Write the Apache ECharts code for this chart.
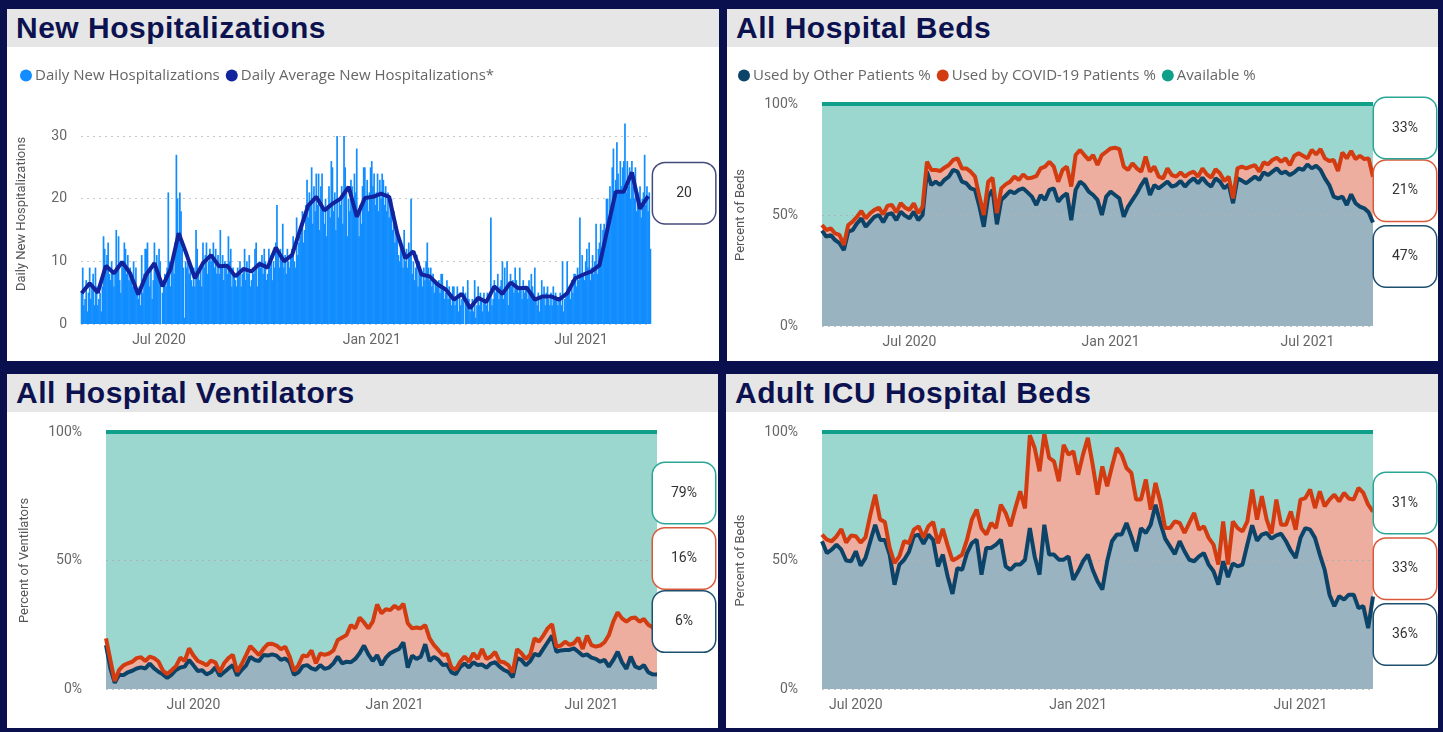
<!DOCTYPE html>
<html>
<head>
<meta charset="utf-8">
<title>Hospital capacity</title>
<script src="https://cdn.jsdelivr.net/npm/echarts@6/dist/echarts.min.js"></script>
<style>
  html, body { margin: 0; padding: 0; }
  body { width: 1443px; height: 732px; background: #0a104e; position: relative; overflow: hidden; }
  .panel { position: absolute; background: #fff; }
  .panel .hdr { height: 38px; background: #e6e6e6; padding-left: 9px; font: bold 30px/38px 'Liberation Sans', Arial, sans-serif; color: #0c1250; letter-spacing: 0.5px; white-space: nowrap; }
  #chart { position: absolute; left: 0; top: 0; width: 1443px; height: 732px; }
</style>
</head>
<body>
<div class="panel" style="left:7px;top:9px;width:712px;height:352px"><div class="hdr">New Hospitalizations</div></div>
<div class="panel" style="left:727px;top:9px;width:711px;height:352px"><div class="hdr">All Hospital Beds</div></div>
<div class="panel" style="left:7px;top:374px;width:711px;height:354px"><div class="hdr">All Hospital Ventilators</div></div>
<div class="panel" style="left:726px;top:374px;width:712px;height:354px"><div class="hdr">Adult ICU Hospital Beds</div></div>
<div id="chart"></div>
<script>
// new hospitalizations, one value per day from 2020-04-25
const hospStart = '2020-04-25';
const hospDaily = [
  5,9,3,4,7,2,5, 9,4,6,8,3,9,6, 3,4,5,2,6,14,12, 9,11,13,8,7,10,8,
  6,8,15,9,14,7,5, 10,9,13,12,8,11,7, 9,8,6,10,7,9,5, 4,6,3,11,5,8,12,
  12,13,8,6,9,4,7, 13,9,11,8,12,10,0, 5,7,8,6,9,21,10, 6,9,11,8,13,27,20,
  14,21,18,12,9,1,10, 9,11,8,10,7,6,9, 6,15,12,8,7,9,6, 13,9,11,13,8,10,12,
  10,11,13,9,12,8,11, 8,15,9,11,7,10,9, 8,14,10,12,6,9,8, 7,6,9,8,10,6,8,
  9,12,7,10,8,11,6, 7,9,8,12,13,6,9, 10,9,11,8,12,10,7, 8,12,9,11,7,10,9,
  13,19,11,9,12,10,16, 9,11,8,12,10,9,11, 12,14,10,9,17,11,13, 14,16,18,13,15,19,23,
  17,21,19,25,16,22,18, 24,19,24,15,22,24,18, 16,20,14,19,22,17,26, 25,18,21,15,30,17,20,
  19,22,16,30,25,21,14, 20,18,23,22,19,24,21, 28,17,14,19,16,22,25, 25,20,23,18,21,25,26,
  22,24,19,21,24,18,23, 20,24,23,19,22,18,21, 17,19,20,15,18,13,16, 14,11,10,13,12,9,15,
  10,12,9,13,11,20,8, 10,7,9,11,6,10,8, 8,6,9,7,10,13,9, 7,9,6,8,5,7,6,
  6,7,5,8,8,6,4, 5,7,4,6,5,3,6, 6,3,4,6,2,5,3, 4,6,0,5,3,7,4,
  2,3,4,2,7,1,3, 6,3,5,4,2,5,4, 3,5,2,4,17,3,4, 7,5,6,8,4,6,7,
  10,4,9,5,10,3,6, 8,6,7,5,9,7,6, 5,9,6,4,7,5,6, 6,4,7,5,8,6,5,
  9,4,3,5,2,4,7, 4,6,3,5,6,4,3, 5,3,6,4,5,4,3, 4,5,3,10,2,4,5,
  10,5,6,4,7,5,8, 8,6,9,7,17,8,11, 8,7,10,12,9,13,7, 9,11,8,10,16,8,12,
  13,16,12,15,16,14,20, 20,17,22,19,25,28,21, 23,29,24,21,26,22,25, 26,32,21,26,22,25,20,
  26,22,20,25,18,21,19, 22,17,20,21,27,19,22, 18,21,12
];
// daily average, one point every 7 days from the same start
const hospWeeklyAvg = [
  4.9, 6.5, 5.0, 9.3, 8.1, 9.9, 8.1, 4.7, 7.9, 9.7, 6.0, 8.8, 14.5, 11.0, 7.3, 9.7, 11.0, 9.2,
  9.3, 7.6, 8.8, 8.4, 9.6, 9.0, 12.2, 10.0, 11.0, 15.0, 18.9, 20.3, 18.1, 19.2, 20.0, 21.9,
  17.1, 20.1, 20.3, 20.8, 20.3, 14.5, 10.5, 11.6, 7.9, 7.6, 6.3, 5.5, 3.9, 4.8, 2.5, 4.2,
  3.5, 6.0, 4.8, 6.6, 5.7, 5.8, 3.9, 4.4, 4.4, 3.9, 4.9, 7.3, 7.9, 8.4, 9.4, 15.3, 21.1,
  21.1, 24.2, 18.4, 20.4
];

// percent series, one value every 4 days
const stepDays = 4;
const bedsStart = '2020-04-13';
const bedsOther = [
  43.0, 40.2, 41.0, 38.7, 37.3, 34.2, 42.5, 43.2, 46.2, 48.5,
  44.7, 47.0, 49.2, 50.0, 46.7, 50.3, 50.8, 47.7, 51.5, 49.7,
  48.5, 51.5, 47.7, 50.0, 69.5, 63.5, 65.0, 63.5, 65.8, 67.3,
  70.3, 69.5, 65.0, 64.3, 62.0, 61.3, 53.8, 44.7, 58.3, 61.3,
  45.8, 56.8, 58.7, 60.8, 59.8, 61.3, 62.0, 60.2, 58.3, 54.5,
  59.0, 56.8, 61.3, 62.0, 56.0, 58.3, 59.8, 47.7, 61.3, 65.0,
  63.5, 60.5, 59.0, 56.8, 50.0, 58.3, 60.5, 59.0, 57.5, 49.2,
  53.8, 56.8, 59.8, 63.5, 66.5, 59.0, 63.5, 62.0, 63.5, 65.0,
  62.8, 63.5, 65.3, 62.8, 65.0, 66.5, 64.3, 66.8, 64.3, 62.8,
  66.5, 65.0, 62.0, 63.8, 55.3, 66.5, 65.5, 64.3, 65.8, 67.3,
  65.8, 69.2, 68.0, 69.5, 71.0, 68.8, 69.5, 68.0, 69.2, 71.0,
  70.3, 72.8, 71.0, 72.2, 70.3, 66.5, 63.5, 58.3, 57.5, 58.3,
  54.5, 59.3, 55.3, 53.8, 53.0, 51.2, 46.6
];
const bedsCovid = [
  2.5, 3.0, 3.0, 3.0, 3.7, 2.3, 3.0, 3.8, 3.0, 3.3,
  3.8, 3.8, 3.1, 3.3, 3.6, 3.9, 3.7, 3.5, 3.8, 3.6,
  3.8, 3.8, 3.1, 3.8, 4.5, 6.8, 5.3, 6.3, 5.5, 5.2,
  4.5, 6.0, 6.0, 6.7, 7.5, 6.0, 4.5, 5.3, 6.7, 5.5,
  5.0, 5.2, 5.1, 4.2, 7.5, 4.5, 6.3, 6.3, 8.5, 13.0,
  12.0, 15.0, 12.7, 9.8, 9.0, 12.0, 12.0, 15.1, 15.7, 14.3,
  13.5, 14.3, 18.0, 15.7, 27.0, 20.2, 19.5, 21.3, 22.2, 22.6,
  16.5, 16.5, 11.2, 6.0, 9.8, 10.5, 8.3, 5.3, 3.0, 6.0,
  5.2, 3.8, 3.9, 4.5, 3.8, 3.0, 3.0, 4.2, 4.0, 4.0,
  4.1, 3.8, 3.3, 3.5, 2.2, 4.5, 6.3, 6.7, 6.0, 5.2,
  3.7, 4.5, 4.8, 5.3, 4.8, 5.2, 6.0, 4.5, 7.5, 6.8,
  6.4, 2.7, 8.3, 5.1, 9.4, 9.0, 10.8, 16.5, 12.3, 19.9,
  21.0, 19.5, 19.9, 22.9, 22.2, 24.3, 20.6
];

const ventStart = '2020-04-14';
const ventOther = [
  17.1, 8.0, 2.4, 5.5, 5.4, 6.5, 7.1, 8.0, 8.4, 8.0,
  9.9, 8.0, 6.7, 5.7, 4.3, 5.6, 7.4, 8.4, 8.7, 11.3,
  9.2, 7.0, 7.3, 5.7, 6.5, 8.4, 5.1, 6.5, 8.0, 9.3,
  5.2, 7.4, 9.1, 12.5, 11.3, 10.9, 13.2, 13.0, 13.5, 13.0,
  11.3, 11.9, 10.4, 5.5, 6.5, 8.9, 9.3, 8.0, 7.5, 9.3,
  7.8, 8.3, 10.0, 12.6, 10.0, 10.6, 10.4, 11.7, 13.9, 16.9,
  13.5, 10.9, 13.2, 9.3, 12.2, 13.9, 14.8, 15.6, 18.2, 8.3,
  13.0, 11.7, 12.6, 17.4, 10.9, 12.5, 11.4, 9.3, 9.5, 6.5,
  5.8, 8.6, 9.9, 8.4, 10.4, 9.3, 9.5, 8.3, 9.9, 10.4,
  8.7, 7.4, 6.7, 4.6, 12.0, 11.3, 9.2, 10.8, 13.7, 13.0,
  15.6, 18.2, 20.8, 14.5, 15.0, 15.2, 15.2, 15.8, 14.5, 13.0,
  13.5, 12.2, 11.7, 10.6, 11.3, 8.7, 11.3, 14.5, 10.4, 7.8,
  12.6, 8.8, 8.0, 9.3, 6.5, 5.7, 5.6
];
const ventCovid = [
  2.6, 3.3, 0.7, 1.9, 3.8, 3.5, 3.5, 4.0, 4.0, 2.9,
  2.7, 4.0, 4.0, 1.5, 1.5, 1.7, 1.5, 3.8, 2.2, 4.5,
  3.8, 3.9, 2.9, 3.5, 4.5, 2.0, 1.5, 3.5, 4.0, 4.0,
  1.5, 2.2, 4.0, 4.2, 3.6, 2.3, 2.4, 4.5, 4.1, 3.9,
  4.2, 4.5, 2.2, 1.5, 2.8, 4.1, 3.4, 7.0, 2.5, 4.5,
  5.5, 5.5, 5.0, 6.5, 10.0, 10.4, 14.5, 11.9, 13.9, 9.0,
  10.1, 15.3, 19.7, 20.1, 18.9, 16.8, 17.6, 15.5, 15.0, 17.3,
  10.6, 12.2, 11.0, 7.5, 8.8, 4.6, 3.8, 3.9, 4.0, 1.8,
  1.8, 2.0, 2.7, 2.2, 3.5, 2.4, 6.0, 3.4, 2.7, 4.0,
  2.0, 3.0, 2.6, 1.8, 3.5, 2.6, 2.5, 2.5, 6.0, 5.4,
  5.2, 5.4, 4.4, 2.0, 1.9, 3.2, 2.0, 2.0, 5.5, 2.6,
  7.3, 4.9, 4.8, 6.3, 6.9, 12.3, 14.9, 15.3, 17.1, 18.4,
  14.9, 19.0, 18.2, 17.9, 18.5, 18.3, 15.6
];

const icuStart = '2020-06-03';
const icuOther = [
  57.5, 52.9, 54.2, 56.2, 54.2, 50.0, 49.7, 53.6, 48.0, 51.0,
  57.5, 63.9, 58.0, 58.0, 52.3, 40.6, 48.4, 50.3, 53.4, 59.5,
  60.1, 56.5, 60.1, 58.0, 47.7, 52.3, 43.8, 37.0, 47.0, 46.4,
  52.9, 56.8, 58.1, 44.5, 54.9, 54.9, 56.2, 58.1, 47.7, 46.4,
  48.4, 48.4, 50.3, 62.6, 51.6, 44.5, 63.9, 52.3, 52.3, 50.3,
  50.3, 51.6, 42.5, 45.8, 49.7, 52.3, 46.4, 41.9, 38.7, 49.7,
  57.5, 60.1, 60.1, 64.6, 59.4, 53.6, 62.6, 60.7, 63.9, 71.7,
  64.6, 58.5, 55.5, 52.5, 57.5, 53.6, 50.3, 49.7, 51.6, 52.9,
  48.4, 45.8, 40.6, 49.7, 43.5, 48.9, 47.7, 48.4, 56.2, 63.7,
  57.7, 60.1, 60.7, 58.5, 59.8, 60.4, 57.5, 53.8, 51.0, 58.8,
  62.6, 62.0, 58.8, 52.3, 46.4, 36.7, 32.2, 36.1, 34.8, 36.7,
  36.7, 31.5, 32.2, 23.7, 36.0
];
const icuCovid = [
  2.6, 5.2, 3.3, 3.2, 8.0, 7.0, 10.0, 5.8, 9.0, 8.0,
  10.3, 11.7, 8.0, 7.0, 2.6, 8.4, 3.2, 7.2, 3.4, 2.5,
  3.2, 2.5, 3.2, 7.0, 9.0, 10.0, 12.0, 13.0, 4.0, 5.9,
  5.2, 9.1, 11.7, 18.0, 5.2, 9.7, 6.4, 13.6, 20.8, 16.9,
  22.0, 28.5, 20.0, 36.1, 42.2, 40.2, 35.5, 37.6, 36.3, 30.5,
  44.7, 39.6, 50.0, 37.6, 41.5, 45.4, 40.9, 33.7, 47.9, 29.2,
  29.1, 33.7, 31.1, 21.4, 24.7, 20.1, 11.1, 20.8, 5.9, 8.5,
  8.2, 4.1, 7.1, 12.7, 7.1, 7.1, 14.3, 18.8, 10.4, 10.4,
  10.4, 10.4, 7.8, 15.5, 4.9, 16.3, 14.9, 12.9, 9.0, 13.9,
  8.2, 14.9, 5.2, 2.0, 13.9, 3.5, 6.4, 15.3, 11.0, 14.9,
  11.7, 15.6, 11.6, 24.6, 24.7, 37.0, 43.4, 36.9, 41.5, 37.4,
  37.0, 46.7, 44.1, 48.0, 33.0
];

const monthNames = ['Jan','Feb','Mar','Apr','May','Jun','Jul','Aug','Sep','Oct','Nov','Dec'];
const stackNames = ['Used by Other Patients %', 'Used by COVID-19 Patients %', 'Available %'];

const C = {
  bar: '#118dff', avg: '#12239e', avgBox: '#454a7d',
  line: ['#0b4468', '#d23c10', '#10a08a'],
  fill: ['#9ab3c1', '#edaea0', '#9bd6cf'],
  box:  ['#1d4f6e', '#d85a3a', '#2ba596'],
  label: '#666', name: '#555', grid: '#c8c8c8'
};
const FONT = 'Roboto, sans-serif';
const LEGEND_FONT = "'Open Sans', sans-serif";

function dateList(start, n, step) {
  const t0 = Date.parse(start + 'T00:00:00Z');
  const out = [];
  for (let i = 0; i < n; i++) out.push(new Date(t0 + i * step * 86400000).toISOString().slice(0, 10));
  return out;
}
// show only Jan and Jul, on the first sample of the month
function halfYear(maxDay) {
  return (idx, val) => {
    const m = +val.slice(5, 7), d = +val.slice(8, 10);
    return (m === 1 || m === 7) && d <= maxDay;
  };
}
const monthLabel = val => monthNames[+val.slice(5, 7) - 1] + ' ' + val.slice(0, 4);

function endBox(border, dy, dist, fmt) {
  return {
    show: true, distance: dist, offset: [0, dy],
    formatter: p => '{v|' + fmt(p.value) + '}',
    backgroundColor: '#fff', borderColor: border, borderWidth: 1.5, borderRadius: 12, padding: 0,
    rich: { v: { width: 62, height: 60, lineHeight: 60, align: 'center', verticalAlign: 'middle',
                 fontSize: 14, color: '#333', fontFamily: FONT } }
  };
}

function xCat(gi, data, maxDay, gap) {
  return {
    type: 'category', gridIndex: gi, data: data, boundaryGap: gap,
    axisLine: { show: false }, axisTick: { show: false },
    axisLabel: { interval: halfYear(maxDay), formatter: monthLabel, color: C.label, fontSize: 14, margin: 9, fontFamily: FONT }
  };
}
function yPct(gi, name) {
  return {
    type: 'value', gridIndex: gi, min: 0, max: 100, interval: 50,
    name: name, nameLocation: 'middle', nameGap: 75,
    nameTextStyle: { color: C.name, fontSize: 13, fontFamily: FONT },
    axisLabel: { formatter: '{value}%', color: C.label, fontSize: 14, margin: 24, fontFamily: FONT },
    splitLine: { lineStyle: { type: [2, 4], color: C.grid } }
  };
}
function legendAt(left, names) {
  return {
    left: left, top: 63, data: names, icon: 'circle', itemWidth: 12, itemHeight: 12, itemGap: 6,
    selectedMode: false, textStyle: { color: C.label, fontSize: 15, fontFamily: LEGEND_FONT, padding: [0, 0, 0, -2] }
  };
}

// three stacked areas, then the three outlines on top so no fill hides a line
function stackSeries(gi, other, covid, offs, dist) {
  const avail = other.map((o, i) => +(100 - o - covid[i]).toFixed(1));
  const sets = [other, covid, avail];
  const out = [];
  sets.forEach((d, k) => out.push({
    type: 'line', name: stackNames[k], xAxisIndex: gi, yAxisIndex: gi, stack: 'fill' + gi, data: d,
    symbol: 'none', silent: true, z: 2,
    lineStyle: { width: 0 }, itemStyle: { color: C.line[k] }, areaStyle: { color: C.fill[k], opacity: 1 },
    markLine: k === 2 ? { silent: true, symbol: 'none', z: 4, label: { show: false },
      lineStyle: { type: [2, 4], color: '#aab4b8', width: 1 }, data: [{ yAxis: 50 }] } : undefined
  }));
  sets.forEach((d, k) => out.push({
    type: 'line', name: stackNames[k], xAxisIndex: gi, yAxisIndex: gi, stack: 'edge' + gi, data: d,
    symbol: 'none', silent: true, z: 6,
    lineStyle: { width: 4, color: C.line[k] }, itemStyle: { color: C.line[k] },
    endLabel: endBox(C.box[k], offs[k], dist, v => Math.round(v) + '%')
  }));
  return out;
}

const hospDays = dateList(hospStart, hospDaily.length, 1);
const avgLine = hospDays.slice(0, (hospWeeklyAvg.length - 1) * 7 + 1)
  .map((d, i) => (i % 7 === 0 ? hospWeeklyAvg[i / 7] : null));

const bedsDays = dateList(bedsStart, bedsOther.length, stepDays);
const ventDays = dateList(ventStart, ventOther.length, stepDays);
const icuDays = dateList(icuStart, icuOther.length, stepDays);

const chart = echarts.init(document.getElementById('chart'));
chart.setOption({
  animation: false,
  textStyle: { fontFamily: FONT },
  grid: [
    { left: 81, top: 136, width: 570, height: 188, outerBoundsMode: 'none' },
    { left: 822, top: 104, width: 551, height: 222, outerBoundsMode: 'none' },
    { left: 106, top: 432, width: 551, height: 257, outerBoundsMode: 'none' },
    { left: 822, top: 432, width: 551, height: 257, outerBoundsMode: 'none' }
  ],
  legend: [
    legendAt(15, ['Daily New Hospitalizations', 'Daily Average New Hospitalizations*']),
    legendAt(733, stackNames)
  ],
  xAxis: [
    xCat(0, hospDays, 1, true),
    xCat(1, bedsDays, stepDays, false),
    xCat(2, ventDays, stepDays, false),
    xCat(3, icuDays, stepDays, false)
  ],
  yAxis: [
    { type: 'value', gridIndex: 0, min: 0, max: 30, interval: 10,
      name: 'Daily New Hospitalizations', nameLocation: 'middle', nameGap: 53,
      nameTextStyle: { color: C.name, fontSize: 13, fontFamily: FONT, padding: [0, 0, 0, 32] },
      axisLabel: { color: C.label, fontSize: 14, margin: 14, fontFamily: FONT },
      splitLine: { lineStyle: { type: [2, 4], color: C.grid } } },
    yPct(1, 'Percent of Beds'),
    yPct(2, 'Percent of Ventilators'),
    yPct(3, 'Percent of Beds')
  ],
  series: [
    { type: 'bar', name: 'Daily New Hospitalizations', xAxisIndex: 0, yAxisIndex: 0, data: hospDaily,
      barWidth: 1.7, clip: false, silent: true, itemStyle: { color: C.bar } },
    { type: 'line', name: 'Daily Average New Hospitalizations*', xAxisIndex: 0, yAxisIndex: 0, data: avgLine,
      connectNulls: true, symbol: 'none', silent: true, z: 5,
      lineStyle: { width: 4, color: C.avg }, itemStyle: { color: C.avg },
      endLabel: endBox(C.avgBox, -3, 5, v => Math.round(v)) }
  ].concat(
    stackSeries(1, bedsOther, bedsCovid, [34, 14, 24], 1),
    stackSeries(2, ventOther, ventCovid, [-53, -76, 61], -4),
    stackSeries(3, icuOther, icuCovid, [38, 57, 71], 1)
  )
});
</script>
</body>
</html>
